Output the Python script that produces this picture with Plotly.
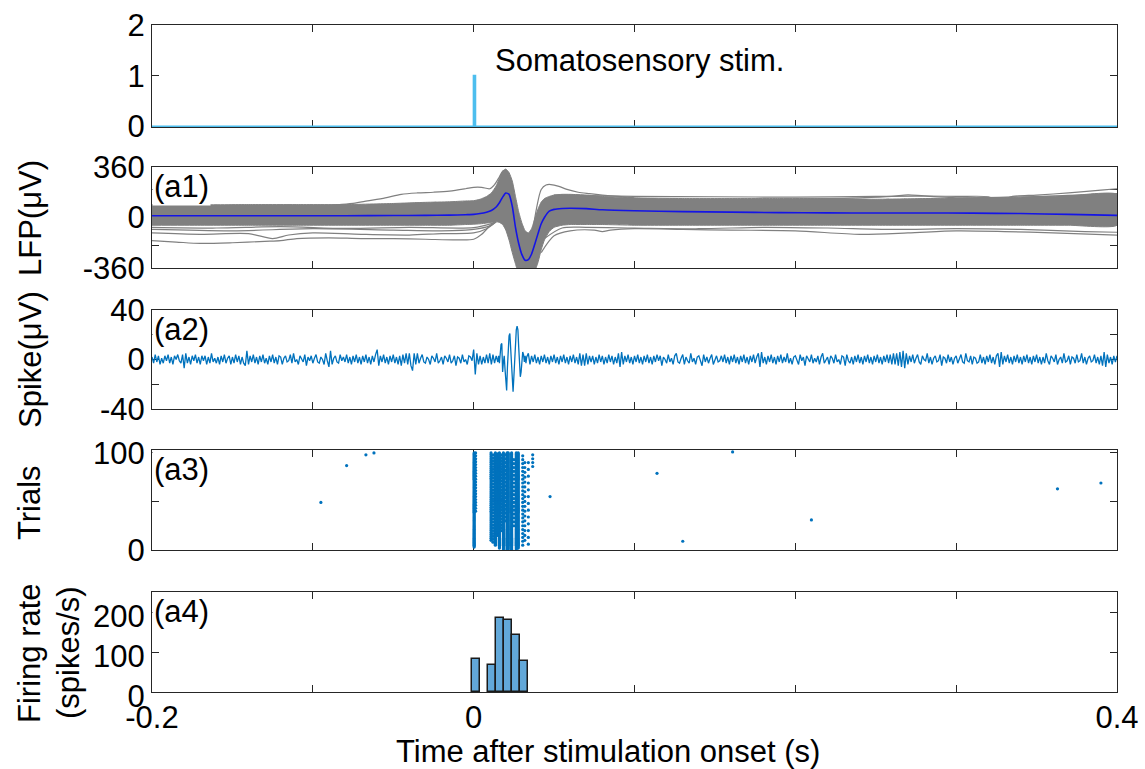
import plotly.graph_objects as go

# ---------------- data ----------------
# stimulus channel
STIM_TIME = [-0.2, 0.0, 0.0, 0.001, 0.001, 0.4]
STIM_LEVEL = [0, 0, 1, 1, 0, 0]

# LFP (uV): shared time grid, trial-average and the dense envelope of the trials
LFP_TIME = [-0.2, -0.17, -0.14, -0.11, -0.08, -0.05, -0.03, -0.015, -0.005, 0.0,
            0.004, 0.008, 0.011, 0.014, 0.016, 0.018, 0.020, 0.022, 0.024, 0.026,
            0.028, 0.030, 0.032, 0.034, 0.036, 0.038, 0.040, 0.042, 0.044, 0.047,
            0.05, 0.055, 0.06, 0.07, 0.08, 0.1, 0.13, 0.16, 0.19, 0.22,
            0.25, 0.28, 0.31, 0.34, 0.37, 0.4]
LFP_MEAN = [13, 13, 13, 13, 13, 14, 15, 17, 20, 22,
            28, 38, 50, 75, 105, 145, 175, 165, 80, -70,
            -185, -265, -305, -300, -260, -190, -115, -45, 0, 45,
            58, 64, 66, 63, 55, 48, 42, 38, 35, 33,
            32, 32, 31, 28, 22, 15]
LFP_CORE_UPPER = [92, 90, 92, 92, 92, 100, 108, 112, 118, 120,
                  130, 150, 175, 225, 280, 330, 345, 320, 260, 150,
                  40, -40, -95, -110, -80, -10, 60, 110, 135, 150,
                  160, 165, 165, 160, 150, 140, 135, 135, 135, 135,
                  130, 135, 140, 145, 155, 165]
LFP_CORE_LOWER = [-55, -55, -55, -55, -55, -55, -55, -55, -50, -48,
                  -45, -40, -35, -30, -35, -50, -90, -160, -250, -330,
                  -400, -400, -400, -400, -400, -380, -320, -230, -160, -100,
                  -70, -55, -50, -50, -50, -55, -55, -55, -55, -55,
                  -55, -55, -55, -55, -55, -55]

# individual trials lying outside the dense envelope: (times, values)
LFP_SINGLE_TRIALS = [
    ([-0.2, -0.1, -0.075, -0.066, -0.055, -0.045, -0.035, -0.025, -0.015, -0.005,
      0.0, 0.005, 0.010, 0.013, 0.016, 0.0185, 0.021, 0.023, 0.025],
     [50, 80, 100, 118, 140, 165, 175, 180, 188, 205,
      215, 215, 205, 235, 290, 335, 315, 270, 180]),
    ([0.036, 0.039, 0.042, 0.045, 0.048, 0.053, 0.058, 0.065, 0.072, 0.08, 0.09, 0.1],
     [-150, 60, 200, 232, 235, 222, 200, 180, 170, 160, 150, 140]),
    ([0.2, 0.24, 0.26, 0.27, 0.28, 0.3, 0.32, 0.327, 0.335, 0.35, 0.37, 0.39, 0.4],
     [130, 140, 150, 162, 155, 150, 148, 120, 150, 160, 175, 195, 205]),
    ([0.05, 0.1, 0.15, 0.2, 0.25, 0.28, 0.3, 0.35, 0.4],
     [160, 150, 148, 145, 150, 152, 140, 150, 170]),
    ([-0.2, -0.185, -0.17, -0.15, -0.13, -0.12, -0.11, -0.09, -0.07, -0.05,
      -0.03, -0.01, 0.0, 0.005, 0.01, 0.014],
     [-165, -175, -185, -180, -170, -165, -150, -145, -150, -150,
      -155, -160, -155, -120, -60, -20]),
    ([-0.2, -0.17, -0.14, -0.125, -0.115, -0.1, -0.07, -0.04, -0.02, 0.0, 0.008, 0.014],
     [-110, -120, -115, -150, -125, -110, -120, -125, -115, -110, -80, -30]),
    ([-0.2, -0.15, -0.1, -0.05, -0.02, 0.0, 0.01, 0.014],
     [-85, -95, -80, -90, -95, -85, -60, -30]),
    ([-0.2, -0.16, -0.12, -0.08, -0.04, 0.0, 0.012],
     [-70, -75, -65, -78, -70, -72, -40]),
    ([0.042, 0.05, 0.06, 0.075, 0.08, 0.085, 0.1, 0.13, 0.16, 0.2,
      0.24, 0.27, 0.3, 0.33, 0.36, 0.4],
     [-250, -130, -95, -90, -100, -90, -80, -85, -90, -95,
      -120, -110, -95, -100, -110, -125]),
    ([0.044, 0.055, 0.07, 0.1, 0.14, 0.18, 0.22, 0.26, 0.3, 0.34, 0.38, 0.4],
     [-150, -75, -70, -75, -80, -70, -75, -85, -80, -85, -100, -105]),
]

# filtered spike band (uV)
SPIKE_PRE_START, SPIKE_PRE_STEP = -0.2, 0.001      # -0.200 .. 0.014 s
SPIKE_PRE = [
    2, -3, 4, -2, 3, -4, 1, -3, 3, -1, 4, -3, 2, -4, 3, 0, 4, -1, -3, 4,
    -7, 5, -3, 2, -4, 3, -1, 4, -3, 2, -4, 3, -1, 3, -4, 2, -3, 5, -2, 1,
    -3, 2, -4, 3, -2, 4, -3, 1, 3, -4, 2, -3, 4, -2, 3, -4, 2, -3, -5, 7,
    -4, 3, -2, 4, -3, 2, -4, 3, -2, 4, -3, 1, -4, 3, -2, 4, -3, 2, -4, 3,
    2, -4, 1, 3, -2, -1, 4, -3, 5, -2, 0, -4, 3, 1, -2, 4, -5, 2, -1, 3,
    -3, 1, 4, -2, -3, 2, 0, -4, 5, -1, -6, 7, -4, 1, 3, -2, -3, 4, -1, 2,
    -2, 4, -3, 2, -4, 3, -2, 4, -3, 2, -4, 3, -2, 4, -3, 2, -4, 3, -2, 4,
    8, -5, 3, -2, 4, -3, 2, -4, 3, -2, 4, -3, 2, -4, 3, -5, 4, -3, 5, -4,
    5, -5, -9, 5, -4, 5, -3, 1, 4, -2, -3, 2, 0, -4, 3, 1, -2, 5, -3, -1,
    2, -4, 3, 1, -2, 4, -3, -1, 3, -5, 2, 1, -3, 4, -2, 0, -4, 3, 2, -1,
    8, -12, 5, -4, 3, -4, 2, -3, 4, -3, 5, -4, 4, -3, 3,
]
SPIKE_EVOKED_START, SPIKE_EVOKED_STEP = 0.015, 0.0005   # 0.015 .. 0.033 s
SPIKE_EVOKED = [
    -2, 3, -3, 5, 12, 13, -10, -2, 3, -8,
    -18, -25, -6, 8, 19, 21, 10, -6, -22, -26,
    -14, 4, 16, 24, 27, 24, 10, -8, -14, -10,
    -3, 6, 4, -2, 3, -3, 2,
]
SPIKE_POST_START, SPIKE_POST_STEP = 0.034, 0.001     # 0.034 .. 0.400 s
SPIKE_POST = [
    5, -4, 3, -2, 4, -3, 2, -4, 3, -2, 4, -3, 2, -4, 3, -2, 4, -3, 2, -4,
    3, -2, 4, -3, 2, -4, 3, -2, 4, -3, 2, -4, 5, -5, 4, -5, 5, -4, 3, -2,
    3, -4, 2, -3, 4, -2, 3, -4, 2, -3, 4, -2, 3, -4, 2, -3, 5, -6, 6, -4,
    3, -2, 4, -3, 2, -4, 3, -2, 4, -3, 2, -4, 3, -2, 4, -3, 2, -4, 3, -2,
    4, -1, 3, -5, 2, 0, -3, 4, -2, 1, -4, 3, 5, -2, -3, 1, 4, -4, 2, -1,
    -3, 5, -2, 1, -4, 2, 3, -1, -5, 4, -2, 2, -3, 1, 4, -4, 0, 3, -2, -1,
    3, -2, 4, -3, 2, -4, 3, -2, 4, -3, 2, -4, 3, -2, 4, -3, 2, -4, 3, -2,
    4, -3, 2, 5, -6, 6, -3, 2, -4, 3, -2, 4, -3, 2, -4, 3, -2, 4, -3, 2,
    -2, 5, -3, 1, -4, 2, 3, -1, -4, 4, -1, 2, -5, 3, 0, -2, 4, -3, 1, -2,
    3, -4, 2, 5, -3, -1, 2, -4, 3, 1, -3, 4, -2, 0, -4, 3, 2, -5, 4, -1,
    -3, 2, -4, 3, -2, 4, -3, 2, -4, 3, -2, 4, -3, 2, -4, 3, -2, 4, -3, 2,
    -4, 3, -2, 4, -3, 4, -4, 5, -4, 5, -5, 6, -6, 7, -7, 5, -4, 3, -2, 4,
    -3, 1, 4, -2, -4, 3, 0, -1, 5, -3, 2, -4, 1, 3, -2, -1, 4, -5, 2, 1,
    -3, 4, -2, 2, -4, 1, 3, -3, 0, 4, -2, -3, 5, -1, -2, 3, -4, 2, 1, -3,
    -2, 4, -3, 2, -4, 3, -2, 4, -3, 2, -4, 3, 5, -6, 6, -4, 3, -2, 4, -3,
    2, -4, 3, -2, 4, -3, 2, -4, 3, -2, 4, -3, 2, -4, 3, -2, 4, -3, 2, -4,
    2, -3, 5, -1, -4, 3, 1, -2, 4, -4, 0, 2, -3, 5, -2, -1, 3, -4, 2, 1,
    -3, 4, -2, -1, 5, -3, 2, -4, 1, 3, -2, -1, 4, -3, 2, -4, 3, -5, 6, -6,
    4, -3, 2, -4, 3, -2, 3,
]

# raster: spike columns as (time s, first trial, last trial, trial stride)
RASTER_COLUMNS = [
    (0.0003, 3, 100, 1), (0.0012, 40, 100, 3),
    (0.0108, 10, 100, 2), (0.0120, 8, 98, 3), (0.0135, 5, 100, 1),
    (0.0148, 15, 100, 2), (0.0160, 2, 100, 1), (0.0172, 20, 98, 3),
    (0.0185, 1, 100, 1), (0.0198, 30, 100, 4), (0.0208, 0, 100, 1),
    (0.0215, 1, 100, 1), (0.0236, 0, 100, 1), (0.0250, 25, 95, 4),
    (0.0265, 1, 100, 1), (0.0277, 2, 100, 1), (0.0305, 5, 97, 4),
    (0.0318, 10, 92, 5), (0.0340, 6, 90, 7), (0.0367, 86, 98, 4),
]
# isolated spikes: times (s) and trial numbers
RASTER_EXTRA_TIME = [-0.095, -0.079, -0.067, -0.062, 0.0475, 0.114, 0.130, 0.161, 0.210, 0.363, 0.390]
RASTER_EXTRA_TRIAL = [49, 87, 98, 100, 55, 79, 9, 101, 31, 63, 69]

# PSTH (spikes/s), 5 ms bins given by their left edges
HIST_BIN_LEFT = [-0.001, 0.009, 0.014, 0.019, 0.024, 0.029]
HIST_RATE = [83, 67, 186, 180, 142, 79]
HIST_BIN_WIDTH = 0.005

# ---------------- figure ----------------
FONT = "Liberation Sans, Arial, sans-serif"
AX = "#262626"
GRAY = "rgb(128,128,128)"
MBLUE = "#0072BD"
W, H = 1145, 769

X_DOMAIN = [152 / W, 1117 / W]


def ydom(top_px, bottom_px):
    return [1 - bottom_px / H, 1 - top_px / H]


fig = go.Figure()

# panel 1: stimulus
fig.add_trace(go.Scatter(x=STIM_TIME, y=STIM_LEVEL, mode="lines",
                         line=dict(color="#4DBEEE", width=2), xaxis="x", yaxis="y"))

# panel 2: LFP
fig.add_trace(go.Scatter(x=LFP_TIME + LFP_TIME[::-1],
                         y=LFP_CORE_UPPER + LFP_CORE_LOWER[::-1],
                         mode="lines", fill="toself", fillcolor=GRAY,
                         line=dict(color=GRAY, width=1, shape="spline", smoothing=0.5),
                         xaxis="x2", yaxis="y2"))
for tt, vv in LFP_SINGLE_TRIALS:
    fig.add_trace(go.Scatter(x=tt, y=vv, mode="lines",
                             line=dict(color=GRAY, width=1.2, shape="spline", smoothing=0.8),
                             xaxis="x2", yaxis="y2"))
fig.add_trace(go.Scatter(x=LFP_TIME, y=LFP_MEAN, mode="lines",
                         line=dict(color="#1414E6", width=1.6, shape="spline", smoothing=0.6),
                         xaxis="x2", yaxis="y2"))

# panel 3: spike band
t_pre = [round(SPIKE_PRE_START + i * SPIKE_PRE_STEP, 4) for i in range(len(SPIKE_PRE))]
t_evk = [round(SPIKE_EVOKED_START + i * SPIKE_EVOKED_STEP, 5) for i in range(len(SPIKE_EVOKED))]
t_post = [round(SPIKE_POST_START + i * SPIKE_POST_STEP, 4) for i in range(len(SPIKE_POST))]
fig.add_trace(go.Scatter(x=t_pre + t_evk + t_post, y=SPIKE_PRE + SPIKE_EVOKED + SPIKE_POST,
                         mode="lines", line=dict(color=MBLUE, width=1.3),
                         xaxis="x3", yaxis="y3"))

# panel 4: raster
rx, ry = [], []
for t, a, b, s in RASTER_COLUMNS:
    for trial in range(a, b + 1, s):
        rx.append(t)
        ry.append(trial)
rx += RASTER_EXTRA_TIME
ry += RASTER_EXTRA_TRIAL
fig.add_trace(go.Scatter(x=rx, y=ry, mode="markers",
                         marker=dict(color=MBLUE, size=3.2, line=dict(width=0)),
                         xaxis="x4", yaxis="y4"))

# panel 5: PSTH
fig.add_trace(go.Bar(x=[l + HIST_BIN_WIDTH / 2 for l in HIST_BIN_LEFT], y=HIST_RATE,
                     width=HIST_BIN_WIDTH,
                     marker=dict(color="#62A8D9", line=dict(color="#1a1a1a", width=1.5)),
                     xaxis="x5", yaxis="y5"))

XTICKS = [-0.2, -0.1, 0, 0.1, 0.2, 0.3, 0.4]
XTEXT = ["-0.2", "", "0", "", "", "", "0.4"]


def xax(anchor, labels):
    return dict(domain=X_DOMAIN, range=[-0.2, 0.4], anchor=anchor, automargin=False,
                tickmode="array", tickvals=XTICKS, ticktext=XTEXT,
                showticklabels=labels, ticks="inside", ticklen=7, tickwidth=1,
                tickcolor=AX, showline=True, linecolor=AX, linewidth=1,
                mirror="ticks", showgrid=False, zeroline=False,
                layer="below traces", ticklabelstandoff=-2,
                tickfont=dict(family=FONT, size=31, color="black"))


def yax(anchor, dom, rng, vals, text, shift=0):
    return dict(domain=dom, range=rng, anchor=anchor, automargin=False,
                tickmode="array", tickvals=vals, ticktext=text,
                ticks="inside", ticklen=7, tickwidth=1, tickcolor=AX,
                showline=True, linecolor=AX, linewidth=1, mirror="ticks",
                showgrid=False, zeroline=False, layer="below traces",
                ticklabelshift=shift,
                tickfont=dict(family=FONT, size=31, color="black"))


fig.update_layout(
    width=W, height=H,
    margin=dict(l=0, r=0, t=0, b=0, pad=0, autoexpand=False),
    paper_bgcolor="white", plot_bgcolor="white",
    showlegend=False, bargap=0,
    font=dict(family=FONT, size=31, color="black"),
    xaxis=xax("y", False),
    xaxis2=xax("y2", False),
    xaxis3=xax("y3", False),
    xaxis4=xax("y4", False),
    xaxis5=xax("y5", True),
    yaxis=yax("x", ydom(25, 127), [-0.01, 2], [0, 1, 2], ["0", "1", "2"]),
    yaxis2=yax("x2", ydom(167, 268), [-360, 360], [-360, -200, 0, 200, 360],
               ["-360", "", "0", "", "360"]),
    yaxis3=yax("x3", ydom(310, 409), [-40, 40], [-40, -20, 0, 20, 40],
               ["-40", "", "0", "", "40"]),
    yaxis4=yax("x4", ydom(450, 550), [0, 103], [0, 50, 100], ["0", "", "100"]),
    yaxis5=yax("x5", ydom(592, 692), [0, 251], [0, 100, 200], ["0", "100", "200"], shift=4),
)

ann = []
ann.append(dict(text="Somatosensory stim.", x=0.012, y=1.3, xref="x", yref="y",
                xanchor="left", yanchor="middle", showarrow=False,
                font=dict(family=FONT, size=31, color="black")))
for lab, xr, yr, ytop in [("(a1)", "x2", "y2", 360), ("(a2)", "x3", "y3", 40),
                          ("(a3)", "x4", "y4", 103), ("(a4)", "x5", "y5", 251)]:
    ann.append(dict(text=lab, x=-0.2, y=ytop, xref=xr, yref=yr, xanchor="left",
                    yanchor="top", showarrow=False, bgcolor="white", borderpad=1,
                    font=dict(family=FONT, size=31, color="black")))
for lab, px, py in [("LFP(μV)", 30, 218), ("Spike(μV)", 30, 360), ("Trials", 29, 503),
                    ("Firing rate", 29, 653), ("(spikes/s)", 68, 653)]:
    ann.append(dict(text=lab, x=px / W, y=1 - py / H, xref="paper", yref="paper",
                    xanchor="center", yanchor="middle", textangle=-90, showarrow=False,
                    font=dict(family=FONT, size=31, color="black")))
ann.append(dict(text="Time after stimulation onset (s)", x=608 / W, y=1 - 751 / H,
                xref="paper", yref="paper", xanchor="center", yanchor="middle",
                showarrow=False, font=dict(family=FONT, size=31, color="black")))
fig.update_layout(annotations=ann)

fig.write_html("out.html")
